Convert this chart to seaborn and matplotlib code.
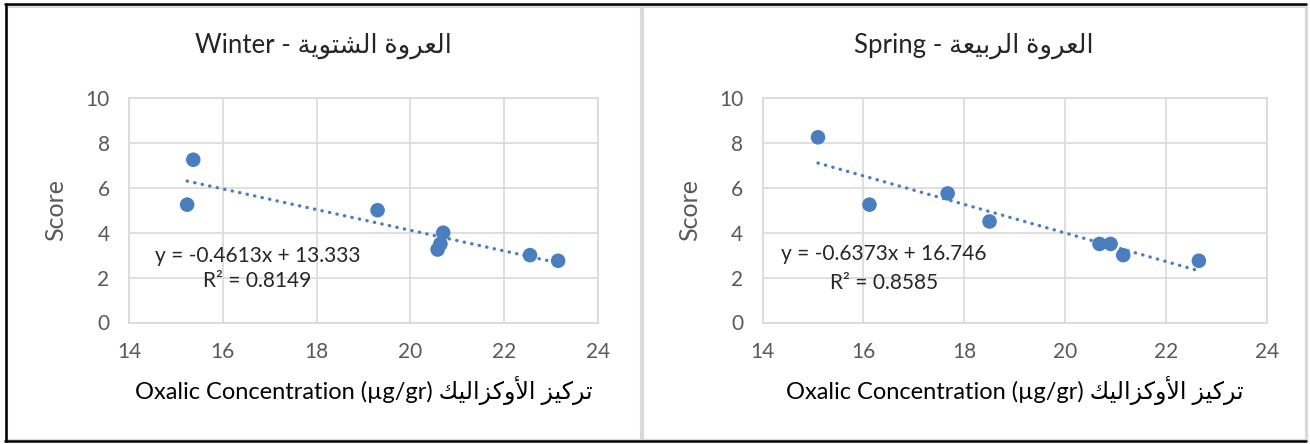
"""
plot.py - Oxalic concentration vs score, winter and spring plantings.
Two Excel-style scatter charts with a dotted linear trendline each.
"""

import matplotlib
matplotlib.use("Agg")

import numpy as np
import matplotlib.pyplot as plt
import seaborn as sns
from matplotlib.patches import Rectangle
from matplotlib.lines import Line2D

# ---- data ----
winter_x = [15.37, 15.24, 19.30, 20.70, 20.64, 20.58, 22.55, 23.15]
winter_y = [7.25, 5.25, 5.00, 4.00, 3.50, 3.25, 3.00, 2.75]
spring_x = [15.10, 16.12, 17.67, 18.50, 20.68, 20.90, 21.15, 22.65]
spring_y = [8.25, 5.25, 5.75, 4.50, 3.50, 3.50, 3.00, 2.75]

winter_eq = ["y = -0.4613x + 13.333", "R\u00b2 = 0.8149"]
spring_eq = ["y = -0.6373x + 16.746", "R\u00b2 = 0.8585"]

x_ticks = [14, 16, 18, 20, 22, 24]
y_ticks = [0, 2, 4, 6, 8, 10]

W, H = 1310, 444
BLUE = "#4a7ebf"
GRID = "#d9d9d9"
GREY_TXT = "#595959"

# ---- tiny Arabic shaper (matplotlib has no complex text layout) ----
FORMS = {  # isolated, final, initial, medial
    "\u0627": ("\ufe8d", "\ufe8e", None, None),
    "\u0623": ("\ufe83", "\ufe84", None, None),
    "\u0628": ("\ufe8f", "\ufe90", "\ufe91", "\ufe92"),
    "\u0629": ("\ufe93", "\ufe94", None, None),
    "\u062a": ("\ufe95", "\ufe96", "\ufe97", "\ufe98"),
    "\u0631": ("\ufead", "\ufeae", None, None),
    "\u0632": ("\ufeaf", "\ufeb0", None, None),
    "\u0634": ("\ufeb5", "\ufeb6", "\ufeb7", "\ufeb8"),
    "\u0639": ("\ufec9", "\ufeca", "\ufecb", "\ufecc"),
    "\u0643": ("\ufed9", "\ufeda", "\ufedb", "\ufedc"),
    "\u0644": ("\ufedd", "\ufede", "\ufedf", "\ufee0"),
    "\u0648": ("\ufeed", "\ufeee", None, None),
    "\u064a": ("\ufef1", "\ufef2", "\ufef3", "\ufef4"),
}
LAM_ALEF = {"\u0627": ("\ufefb", "\ufefc"), "\u0623": ("\ufef7", "\ufef8")}


def dual(c):
    return c in FORMS and FORMS[c][2] is not None


def shape_ar(text):
    """Contextual forms + reversed order so it reads right-to-left."""
    out, i, n = [], 0, len(text)
    while i < n:
        c = text[i]
        if c not in FORMS:
            out.append(c)
            i += 1
            continue
        prev = i > 0 and dual(text[i - 1])
        if c == "\u0644" and i + 1 < n and text[i + 1] in LAM_ALEF:
            out.append(LAM_ALEF[text[i + 1]][1 if prev else 0])
            i += 2
            continue
        nxt = dual(c) and i + 1 < n and text[i + 1] in FORMS
        iso, fin, ini, med = FORMS[c]
        out.append(med if prev and nxt else fin if prev else ini if nxt else iso)
        i += 1
    return "".join(reversed(out))


winter_title = "Winter - " + shape_ar("العروة الشتوية")
spring_title = "Spring - " + shape_ar("العروة الربيعة")
x_label = "Oxalic Concentration (\u00b5g/gr) " + shape_ar("تركيز الأوكزاليك")

sns.set_theme(style="white")
plt.rcParams["font.family"] = ["Lato", "DejaVu Sans"]

fig = plt.figure(figsize=(W / 100, H / 100), dpi=100)


def px_box(x0, y0, x1, y1):
    """pixel box (top-left origin) -> figure fraction [l, b, w, h]"""
    return [x0 / W, 1 - y1 / H, (x1 - x0) / W, (y1 - y0) / H]


panels = [
    dict(x=winter_x, y=winter_y, eq=winter_eq, eq_x=16.74, eq_y=(2.97, 1.85),
         title=winter_title, box=(129, 98, 598, 322.5), chart=(6, 6, 641, 440),
         ylab=-0.132),
    dict(x=spring_x, y=spring_y, eq=spring_eq, eq_x=16.41, eq_y=(3.06, 1.76),
         title=spring_title, box=(762.5, 98, 1267, 322.5), chart=(642, 6, 1306, 440),
         ylab=-0.122),
]

for p in panels:
    # chart frame (Excel chart object border)
    cx0, cy0, cx1, cy1 = p["chart"]
    fig.add_artist(Rectangle((cx0 / W, 1 - cy1 / H), (cx1 - cx0) / W, (cy1 - cy0) / H,
                             transform=fig.transFigure, fill=False,
                             edgecolor=GRID, lw=2.2))

    ax = fig.add_axes(px_box(*p["box"]))
    sns.regplot(x=p["x"], y=p["y"], ax=ax, ci=None, truncate=True,
                scatter_kws=dict(s=110, color=BLUE, alpha=1, edgecolor="none", zorder=3),
                line_kws=dict(color=BLUE, lw=2.4, ls=(0, (0.1, 2.2)),
                              dash_capstyle="round", zorder=2))

    ax.set_xlim(14, 24)
    ax.set_ylim(0, 10)
    ax.set_xticks(x_ticks)
    ax.set_yticks(y_ticks)
    ax.grid(True, color=GRID, lw=1.2)
    for sp in ax.spines.values():
        sp.set_visible(True)
        sp.set_color(GRID)
        sp.set_linewidth(1.2)
    ax.tick_params(length=0, pad=14, labelsize=15, labelcolor=GREY_TXT)

    ax.set_ylabel("Score", fontsize=18, color=GREY_TXT)
    ax.yaxis.set_label_coords(p["ylab"], 0.5)
    ax.set_xlabel(x_label, fontsize=17, color="black", va="center")
    ax.xaxis.set_label_coords(0.5, -0.305)

    ax.text(p["eq_x"], p["eq_y"][0], p["eq"][0], ha="center", va="center", fontsize=15)
    ax.text(p["eq_x"], p["eq_y"][1], p["eq"][1], ha="center", va="center", fontsize=15)

    fig.text(((cx0 + cx1) / 2) / W, 1 - 46 / H, p["title"], ha="center", va="center",
             fontsize=18.5)

# black screenshot edge (top, left, bottom)
for xs, ys in [((5, 1306), (4.5, 4.5)), ((5.5, 5.5), (4, 441)), ((5, 1306), (441, 441))]:
    fig.add_artist(Line2D([x / W for x in xs], [1 - y / H for y in ys],
                          transform=fig.transFigure, color="black", lw=1.8))

fig.savefig("out.png", dpi=100)
plt.close(fig)
